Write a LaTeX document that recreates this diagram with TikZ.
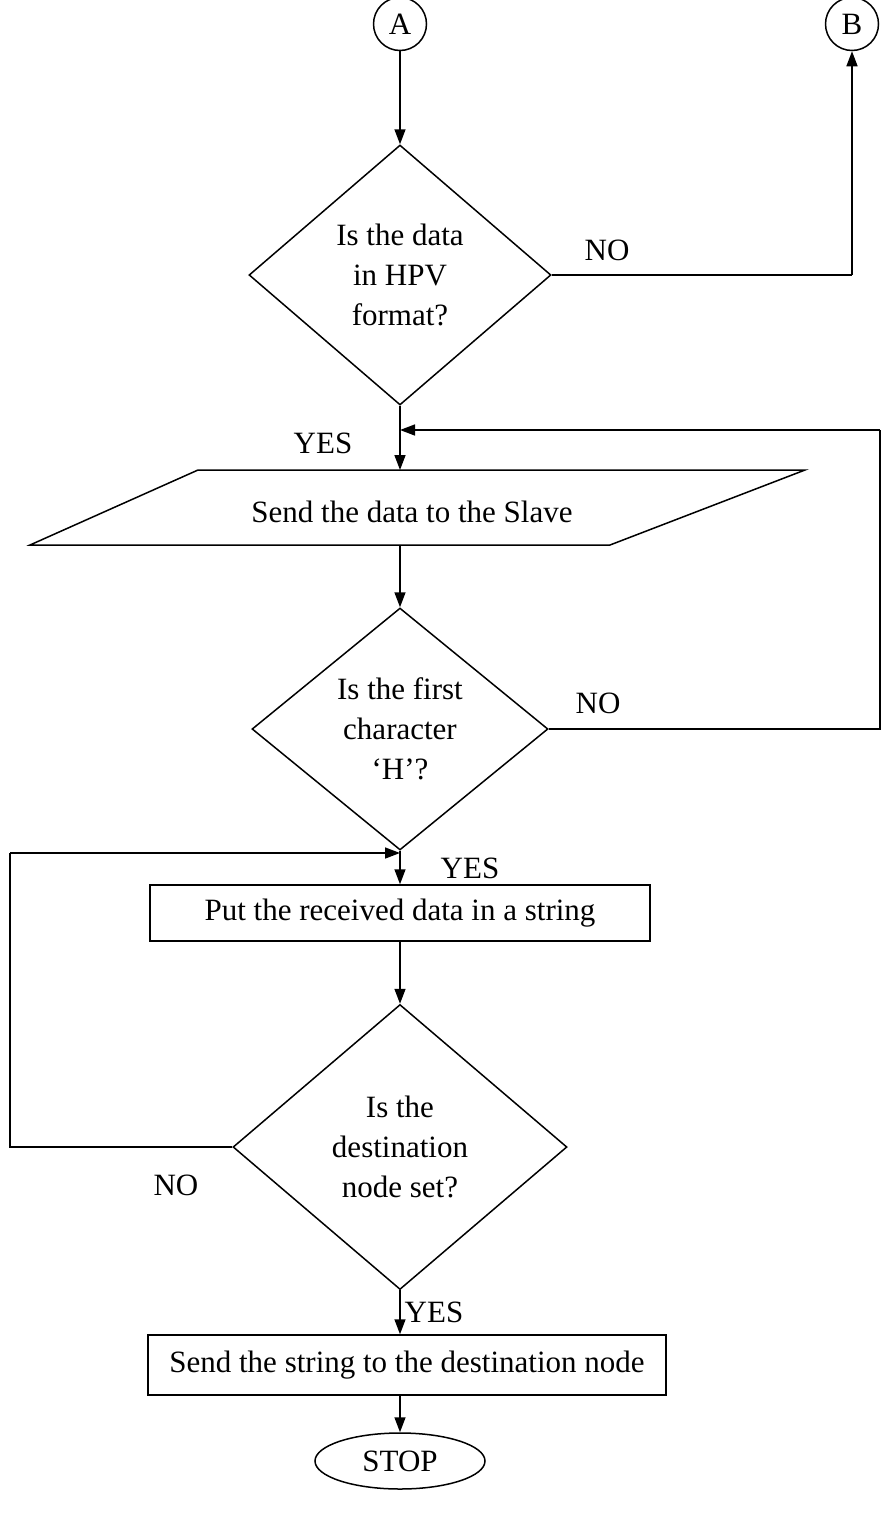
\documentclass[tikz,border=0pt]{standalone}
\usepackage{fontspec}
\setmainfont{Liberation Serif}
\usetikzlibrary{shapes.geometric,arrows.meta}
\begin{document}
\begin{tikzpicture}[x=1pt,y=-1pt,
  every node/.style={font=\fontsize{31}{40}\selectfont},
  ln/.style={line width=1.5pt},
  arr/.style={ln,-{Triangle[length=15pt,width=11pt]}},
  conn/.style={ln,circle,draw,minimum size=53pt,inner sep=0pt},
  dec/.style={ln,diamond,draw,inner sep=0pt,align=center},
  proc/.style={ln,rectangle,draw,inner sep=0pt},
  lbl/.style={inner sep=0pt}]
\useasboundingbox (0,0) rectangle (888,1513);
\node[conn] (A) at (400,24) {A};
\node[conn] (B) at (852,24) {B};
\node[dec,minimum width=302pt,minimum height=260pt] (d1) at (400,275) {Is the data\\in HPV\\format?};
\node[lbl] (no1) at (607,250) {NO};
\node[lbl] (yes1) at (323,443) {YES};
\coordinate (j1) at (400,430);
\coordinate (ptop) at (400,470);
\coordinate (pbot) at (400,545);
\draw[ln] (198,470) -- (805,470) -- (610,545) -- (30,545) -- cycle;
\node[lbl] (par) at (412,512) {Send the data to the Slave};
\node[dec,minimum width=296pt,minimum height=242pt] (d2) at (400,729) {Is the first\\character\\`H'?};
\node[lbl] (no2) at (598,703) {NO};
\node[lbl] (yes2) at (470,868) {YES};
\node[proc,minimum width=500pt,minimum height=56pt] (r1) at (400,913) {Put the received data in a string};
\coordinate (j2) at (400,853);
\node[dec,minimum width=334pt,minimum height=285pt] (d3) at (400,1147) {Is the\\destination\\node set?};
\node[lbl] (no3) at (176,1185) {NO};
\node[lbl] (yes3) at (434,1312) {YES};
\node[proc,minimum width=518pt,minimum height=60pt] (r2) at (407,1365) {Send the string to the destination node};
\node[ln,ellipse,draw,minimum width=170pt,minimum height=56pt,inner sep=0pt] (stop) at (400,1461) {STOP};
% connectors
\draw[arr] (A) -- (d1.north);
\draw[ln] (d1.east) -- (852,275) coordinate (c1);
\draw[arr] (c1) -- (B);
\draw[arr] (d1.south) -- (ptop);
\draw[arr] (pbot) -- (d2.north);
\draw[ln] (d2.east) -- (880,729) coordinate (c2) -- (880,430) coordinate (c3);
\draw[arr] (c3) -- (j1);
\draw[arr] (d2.south) -- (r1.north);
\draw[arr] (r1.south) -- (d3.north);
\draw[ln] (d3.west) -- (10,1147) coordinate (c4) -- (10,853) coordinate (c5);
\draw[arr] (c5) -- (j2);
\draw[arr] (d3.south) -- (d3.south |- r2.north);
\draw[arr] (r2.south -| stop.north) -- (stop.north);
\end{tikzpicture}
\end{document}
